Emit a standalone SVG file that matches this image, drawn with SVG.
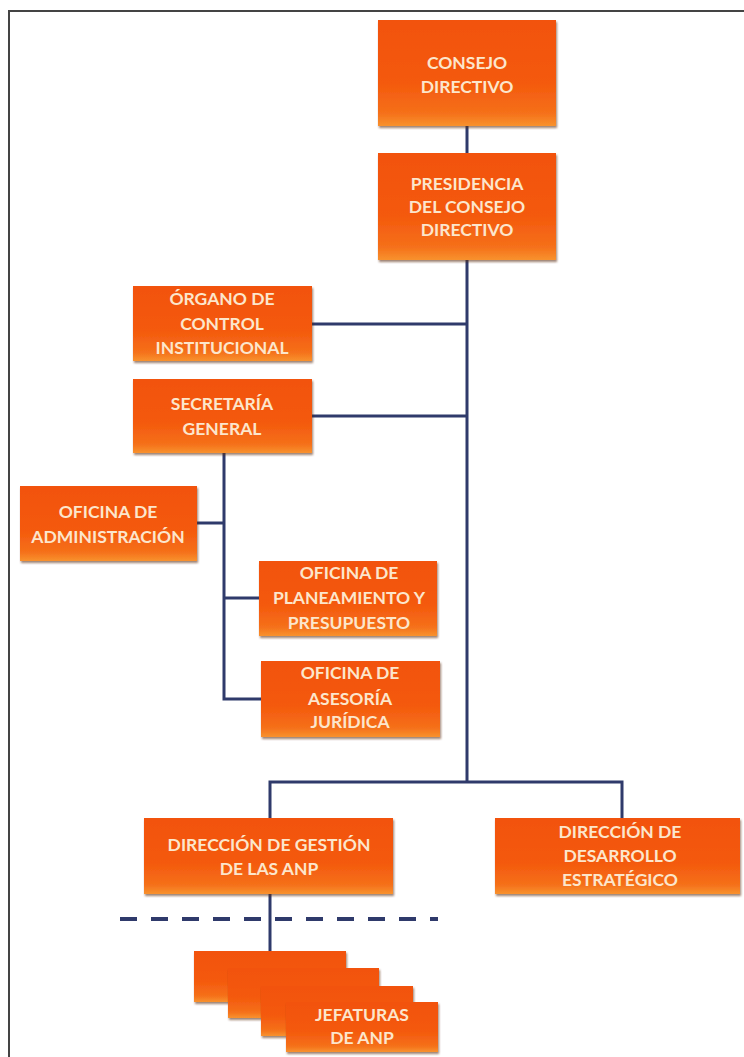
<svg xmlns="http://www.w3.org/2000/svg" width="744" height="1057" viewBox="0 0 744 1057">
<defs>
<linearGradient id="og" x1="0" y1="0" x2="0" y2="1">
<stop offset="0" stop-color="#F2520C"/>
<stop offset="0.6" stop-color="#F45A0E"/>
<stop offset="0.88" stop-color="#F5701A"/>
<stop offset="1" stop-color="#F8922E"/>
</linearGradient>
<filter id="sh" x="-5%" y="-5%" width="112%" height="120%">
<feDropShadow dx="1" dy="2" stdDeviation="1" flood-color="#5a2a10" flood-opacity="0.6"/>
</filter>
<style>
.box{fill:url(#og);filter:url(#sh);}
.t{font-family:Lato,"Liberation Sans",sans-serif;font-weight:bold;font-size:17.5px;fill:#FCE6CC;text-anchor:middle;}
.ln{stroke:#2F3A6B;stroke-width:3;fill:none;}
.dash{stroke:#2F3A6B;stroke-width:4;stroke-dasharray:17 14;fill:none;}
.frame{stroke:#444;stroke-width:2;fill:none;}
</style>
</defs>
<rect width="744" height="1057" fill="#fff"/>
<path class="frame" d="M9 1057 V11 H744"/>
<g id="connectors">
<path class="ln" d="M467 126 V153"/>
<path class="ln" d="M467 260 V782"/>
<path class="ln" d="M312 324 H467"/>
<path class="ln" d="M312 416 H467"/>
<path class="ln" d="M224 453 V699 H261"/>
<path class="ln" d="M197 523 H224"/>
<path class="ln" d="M224 598 H259"/>
<path class="ln" d="M270 818 V782 H622 V818"/>
<path class="ln" d="M270 894 V951"/>
<path class="dash" d="M120 919 H438"/>
</g>
<g id="consejo">
<rect class="box" x="378" y="20" width="178" height="106"/>
<text class="t" x="467" y="69">CONSEJO</text>
<text class="t" x="467" y="93">DIRECTIVO</text>
</g>
<g id="presidencia">
<rect class="box" x="378" y="153" width="178" height="107"/>
<text class="t" x="467" y="190">PRESIDENCIA</text>
<text class="t" x="467" y="213">DEL CONSEJO</text>
<text class="t" x="467" y="236">DIRECTIVO</text>
</g>
<g id="organo">
<rect class="box" x="133" y="286" width="179" height="75"/>
<text class="t" x="222" y="305">ÓRGANO DE</text>
<text class="t" x="222" y="330">CONTROL</text>
<text class="t" x="222" y="354">INSTITUCIONAL</text>
</g>
<g id="secretaria">
<rect class="box" x="133" y="379" width="179" height="74"/>
<text class="t" x="222" y="410">SECRETARÍA</text>
<text class="t" x="222" y="435">GENERAL</text>
</g>
<g id="administracion">
<rect class="box" x="20" y="486" width="177" height="75"/>
<text class="t" x="108" y="518">OFICINA DE</text>
<text class="t" x="108" y="543">ADMINISTRACIÓN</text>
</g>
<g id="planeamiento">
<rect class="box" x="259" y="561" width="178" height="75"/>
<text class="t" x="349" y="579">OFICINA DE</text>
<text class="t" x="349" y="604">PLANEAMIENTO Y</text>
<text class="t" x="349" y="629">PRESUPUESTO</text>
</g>
<g id="asesoria">
<rect class="box" x="261" y="661" width="179" height="76"/>
<text class="t" x="350" y="679">OFICINA DE</text>
<text class="t" x="350" y="705">ASESORÍA</text>
<text class="t" x="350" y="728">JURÍDICA</text>
</g>
<g id="gestion">
<rect class="box" x="144" y="818" width="249" height="76"/>
<text class="t" x="269" y="851">DIRECCIÓN DE GESTIÓN</text>
<text class="t" x="269" y="875">DE LAS ANP</text>
</g>
<g id="desarrollo">
<rect class="box" x="495" y="818" width="245" height="76"/>
<text class="t" x="620" y="838">DIRECCIÓN DE</text>
<text class="t" x="620" y="862">DESARROLLO</text>
<text class="t" x="620" y="886">ESTRATÉGICO</text>
</g>
<g id="jefaturas">
<rect class="box" x="194" y="951" width="152" height="51"/>
<rect class="box" x="228" y="968" width="151" height="50"/>
<rect class="box" x="261" y="986" width="152" height="50"/>
<rect class="box" x="286" y="1002" width="152" height="50"/>
<text class="t" x="362" y="1021">JEFATURAS</text>
<text class="t" x="362" y="1044">DE ANP</text>
</g>
</svg>
